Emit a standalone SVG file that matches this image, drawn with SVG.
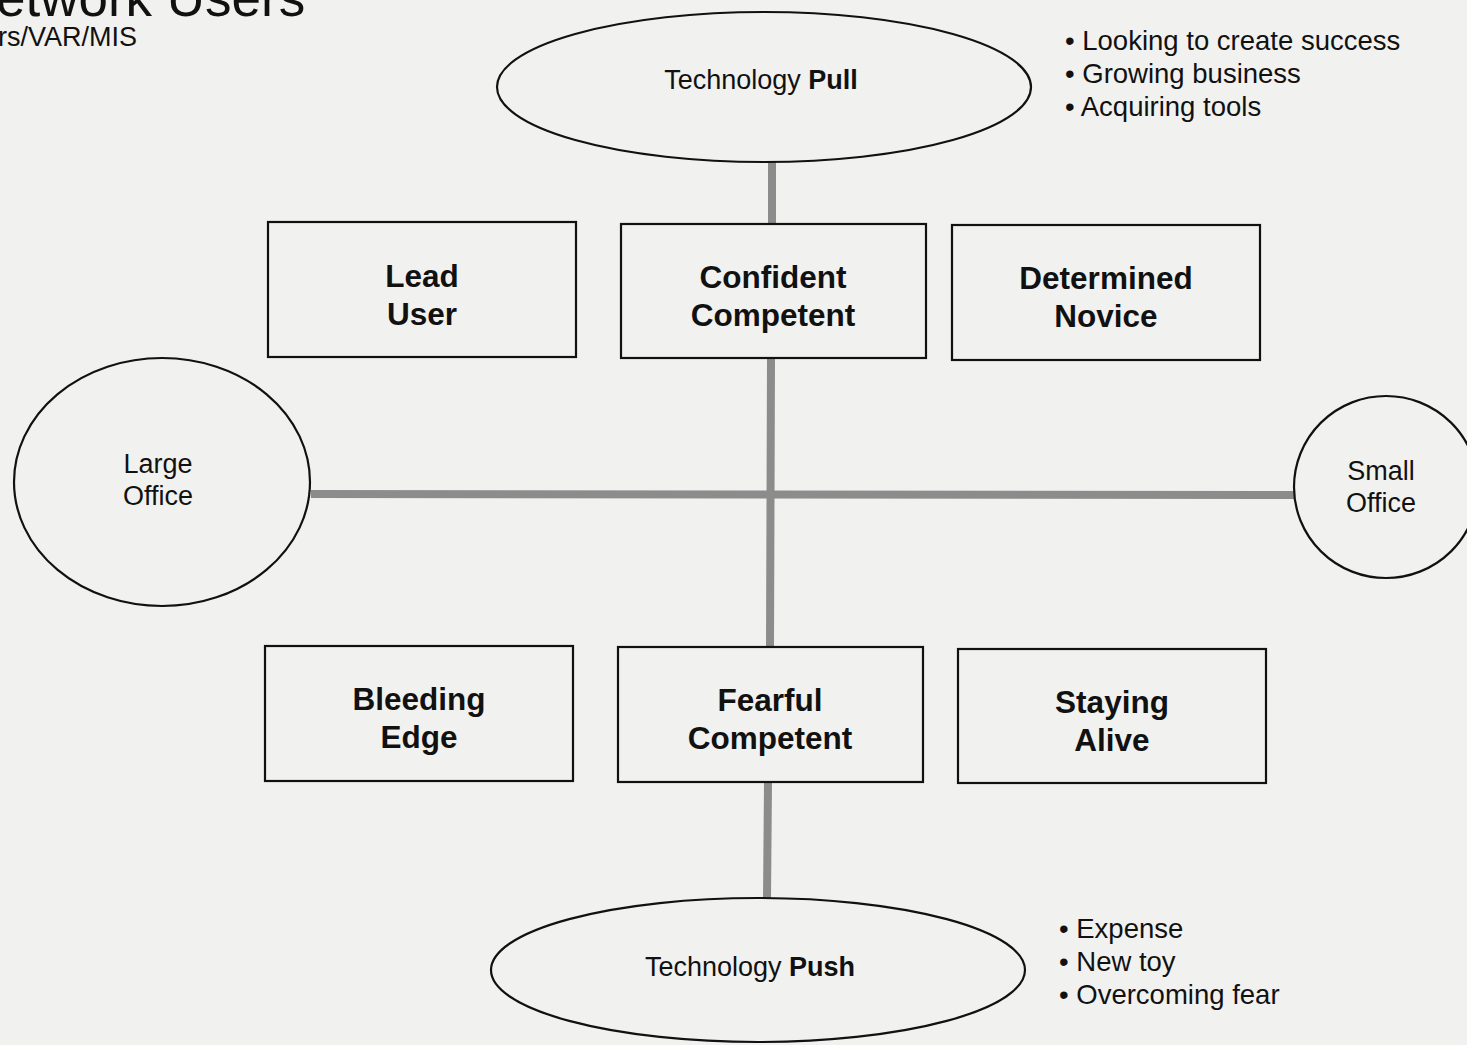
<svg xmlns="http://www.w3.org/2000/svg" width="1467" height="1045" viewBox="0 0 1467 1045">
  <style>
    .bg { fill: #f1f1f0; }
    .shape { fill: none; stroke: #111; stroke-width: 2.2; }
    .axis { stroke: #8c8c8c; stroke-width: 8; fill: none; }
    .t { font-family: "Liberation Sans", Arial, sans-serif; fill: #111; }
    .reg { font-size: 27px; }
    .note { font-size: 27.5px; }
    .box { font-size: 31.5px; font-weight: bold; text-anchor: middle; }
    .mid { text-anchor: middle; }
    .b { font-weight: bold; }
  </style>
  <rect class="bg" x="0" y="0" width="1467" height="1045"/>

  <!-- heading, running off the left edge -->
  <text class="t" x="-4" y="16" font-size="53">etwork Users</text>
  <text class="t" x="-2" y="46" font-size="27">rs/VAR/MIS</text>

  <!-- axes -->
  <g id="connectors">
    <path class="axis" d="M772 162 L772 225 M771 358 L770 647 M768 782 L767 898"/>
    <path class="axis" d="M311 494 L1294 495"/>
  </g>

  <g id="tech-pull">
    <ellipse class="shape" cx="764" cy="87" rx="267" ry="75"/>
    <text class="t reg mid" x="761" y="89">Technology <tspan class="b">Pull</tspan></text>
  </g>
  <g id="tech-push">
    <ellipse class="shape" cx="758" cy="970" rx="267" ry="72"/>
    <text class="t reg mid" x="750" y="976">Technology <tspan class="b">Push</tspan></text>
  </g>
  <g id="large-office">
    <ellipse class="shape" cx="162" cy="482" rx="148" ry="124"/>
    <text class="t reg mid" x="158" y="473">Large</text>
    <text class="t reg mid" x="158" y="505">Office</text>
  </g>
  <g id="small-office">
    <ellipse class="shape" cx="1386" cy="487" rx="92" ry="91"/>
    <text class="t reg mid" x="1381" y="480">Small</text>
    <text class="t reg mid" x="1381" y="512">Office</text>
  </g>

  <g id="lead-user">
    <rect class="shape" x="268" y="222" width="308" height="135"/>
    <text class="t box" x="422" y="287">Lead</text>
    <text class="t box" x="422" y="325">User</text>
  </g>
  <g id="confident-competent">
    <rect class="shape" x="621" y="224" width="305" height="134"/>
    <text class="t box" x="773" y="288">Confident</text>
    <text class="t box" x="773" y="326">Competent</text>
  </g>
  <g id="determined-novice">
    <rect class="shape" x="952" y="225" width="308" height="135"/>
    <text class="t box" x="1106" y="289">Determined</text>
    <text class="t box" x="1106" y="327">Novice</text>
  </g>
  <g id="bleeding-edge">
    <rect class="shape" x="265" y="646" width="308" height="135"/>
    <text class="t box" x="419" y="710">Bleeding</text>
    <text class="t box" x="419" y="748">Edge</text>
  </g>
  <g id="fearful-competent">
    <rect class="shape" x="618" y="647" width="305" height="135"/>
    <text class="t box" x="770" y="711">Fearful</text>
    <text class="t box" x="770" y="749">Competent</text>
  </g>
  <g id="staying-alive">
    <rect class="shape" x="958" y="649" width="308" height="134"/>
    <text class="t box" x="1112" y="713">Staying</text>
    <text class="t box" x="1112" y="751">Alive</text>
  </g>

  <g id="pull-notes">
    <text class="t note" x="1065" y="50">• Looking to create success</text>
    <text class="t note" x="1065" y="83">• Growing business</text>
    <text class="t note" x="1065" y="116">• Acquiring tools</text>
  </g>
  <g id="push-notes">
    <text class="t note" x="1059" y="938">• Expense</text>
    <text class="t note" x="1059" y="971">• New toy</text>
    <text class="t note" x="1059" y="1004">• Overcoming fear</text>
  </g>
</svg>
